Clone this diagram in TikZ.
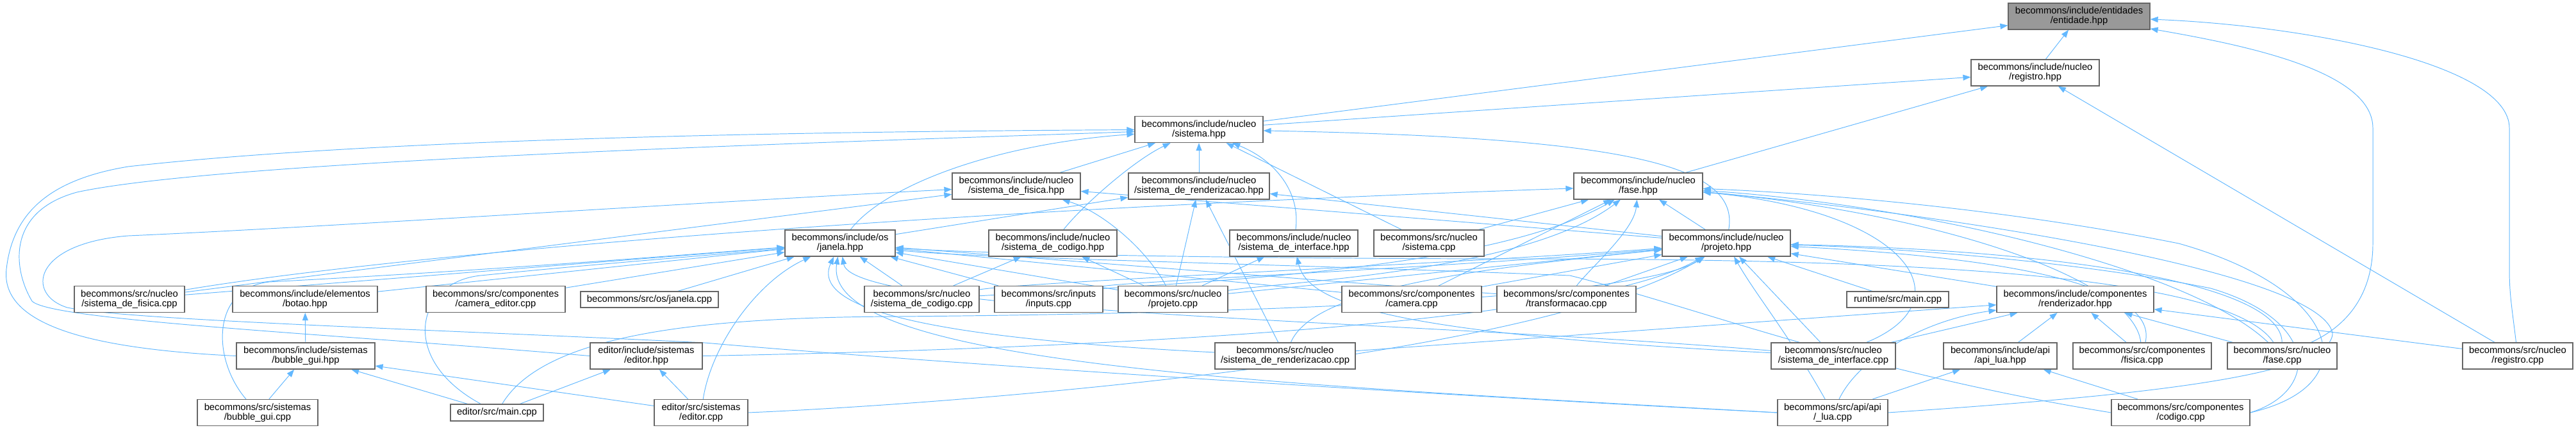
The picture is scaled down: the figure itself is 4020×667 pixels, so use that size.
\documentclass[tikz,border=0pt]{standalone}
\usepackage{fontspec}
\setmainfont{Liberation Sans}
\usetikzlibrary{arrows.meta}
\definecolor{edgec}{HTML}{63B8FF}
\definecolor{boxc}{HTML}{666666}
\definecolor{entfill}{HTML}{999999}
\pgfdeclarelayer{bg}
\pgfsetlayers{bg,main}
\begin{document}
\begin{tikzpicture}[x=0.02cm,y=-0.02cm,
  nbox/.style={draw=boxc,line width=0.7pt,fill=white,minimum height=0.82cm,inner sep=0pt,align=center,font=\fontsize{8.4}{8.55}\selectfont},
  onebox/.style={nbox,minimum height=0.5cm},
  dep/.style={draw=edgec,line width=0.55pt,-{Triangle[length=0.24cm,width=0.18cm]}}]
\useasboundingbox (0,0) rectangle (4020,667);
% nodes
\node[nbox,fill=entfill,minimum width=221*0.02cm] (ent) at (3244.5,25.5) {becommons/include/entidades\\/entidade.hpp};
\node[nbox,minimum width=200*0.02cm] (reg) at (3176,113.5) {becommons/include/nucleo\\/registro.hpp};
\node[nbox,minimum width=200*0.02cm] (sis) at (1871,202) {becommons/include/nucleo\\/sistema.hpp};
\node[nbox,minimum width=200*0.02cm] (fish) at (1586,290.5) {becommons/include/nucleo\\/sistema\_de\_fisica.hpp};
\node[nbox,minimum width=220*0.02cm] (renh) at (1871,290.5) {becommons/include/nucleo\\/sistema\_de\_renderizacao.hpp};
\node[nbox,minimum width=201*0.02cm] (fase) at (2556.5,290.5) {becommons/include/nucleo\\/fase.hpp};
\node[nbox,minimum width=172*0.02cm] (jan) at (1311,379.5) {becommons/include/os\\/janela.hpp};
\node[nbox,minimum width=200*0.02cm] (codh) at (1643,379.5) {becommons/include/nucleo\\/sistema\_de\_codigo.hpp};
\node[nbox,minimum width=200*0.02cm] (inth) at (2019,379.5) {becommons/include/nucleo\\/sistema\_de\_interface.hpp};
\node[nbox,minimum width=172*0.02cm] (siscpp) at (2230,379.5) {becommons/src/nucleo\\/sistema.cpp};
\node[nbox,minimum width=200*0.02cm] (proh) at (2694,379.5) {becommons/include/nucleo\\/projeto.hpp};
\node[nbox,minimum width=172*0.02cm] (fiscpp) at (202,467) {becommons/src/nucleo\\/sistema\_de\_fisica.cpp};
\node[nbox,minimum width=226*0.02cm] (botao) at (476,467) {becommons/include/elementos\\/botao.hpp};
\node[nbox,minimum width=217*0.02cm] (camed) at (773.5,467) {becommons/src/componentes\\/camera\_editor.cpp};
\node[onebox,minimum width=215*0.02cm] (jancpp) at (1013.5,467.5) {becommons/src/os/janela.cpp};
\node[nbox,minimum width=179*0.02cm] (codcpp) at (1438.5,467) {becommons/src/nucleo\\/sistema\_de\_codigo.cpp};
\node[nbox,minimum width=169*0.02cm] (inputs) at (1636.5,467) {becommons/src/inputs\\/inputs.cpp};
\node[nbox,minimum width=171*0.02cm] (procpp) at (1830.5,467) {becommons/src/nucleo\\/projeto.cpp};
\node[nbox,minimum width=218*0.02cm] (camcpp) at (2203,467) {becommons/src/componentes\\/camera.cpp};
\node[nbox,minimum width=217*0.02cm] (transcpp) at (2444.5,467) {becommons/src/componentes\\/transformacao.cpp};
\node[onebox,minimum width=159*0.02cm] (runmain) at (2961.5,467.5) {runtime/src/main.cpp};
\node[nbox,minimum width=245*0.02cm] (rendh) at (3238.5,467) {becommons/include/componentes\\/renderizador.hpp};
\node[nbox,minimum width=216*0.02cm] (bubh) at (477,555.5) {becommons/include/sistemas\\/bubble\_gui.hpp};
\node[nbox,minimum width=175*0.02cm] (edh) at (1008.5,555.5) {editor/include/sistemas\\/editor.hpp};
\node[nbox,minimum width=219*0.02cm] (rencpp) at (2005.5,555.5) {becommons/src/nucleo\\/sistema\_de\_renderizacao.cpp};
\node[nbox,minimum width=194*0.02cm] (intcpp) at (2861,555.5) {becommons/src/nucleo\\/sistema\_de\_interface.cpp};
\node[nbox,minimum width=177*0.02cm] (apih) at (3121.5,555.5) {becommons/include/api\\/api\_lua.hpp};
\node[nbox,minimum width=216*0.02cm] (fiscomp) at (3343,555.5) {becommons/src/componentes\\/fisica.cpp};
\node[nbox,minimum width=171*0.02cm] (fasecpp) at (3561.5,555.5) {becommons/src/nucleo\\/fase.cpp};
\node[nbox,minimum width=172*0.02cm] (regcpp) at (3929,555.5) {becommons/src/nucleo\\/registro.cpp};
\node[nbox,minimum width=188*0.02cm] (bubcpp) at (402,644) {becommons/src/sistemas\\/bubble\_gui.cpp};
\node[onebox,minimum width=145*0.02cm,minimum height=0.52cm] (edmain) at (775.5,644) {editor/src/main.cpp};
\node[nbox,minimum width=146*0.02cm] (edcpp) at (1094,644) {editor/src/sistemas\\/editor.cpp};
\node[nbox,minimum width=172*0.02cm] (apicpp) at (2860,644) {becommons/src/api/api\\/\_lua.cpp};
\node[nbox,minimum width=216*0.02cm] (codigocpp) at (3403,644) {becommons/src/componentes\\/codigo.cpp};
% edges
\begin{pgfonlayer}{bg}
% to entidade
\draw[dep] (reg) -- (ent);
\draw[dep] (sis) -- (ent);
\draw[dep] (fasecpp) .. controls (3680,500) and (3703,440) .. (3703,380) -- (3703,200) .. controls (3703,110) and (3500,70) .. (ent);
\draw[dep] (regcpp) .. controls (3920,480) and (3916,460) .. (3916,420) -- (3916,200) .. controls (3916,100) and (3600,40) .. (ent);
% to registro
\draw[dep] (sis) -- (reg);
\draw[dep] (fase) -- (reg);
\draw[dep] (regcpp) -- (reg);
% to sistema
\draw[dep] (fish) -- (sis);
\draw[dep] (renh) -- (sis);
\draw[dep] (siscpp) -- (sis);
\draw[dep] (codh) .. controls (1690,320) and (1770,250) .. (sis);
\draw[dep] (inth) .. controls (2030,300) and (1990,250) .. (sis);
\draw[dep] (proh) .. controls (2715,260) and (2550,215) .. (sis);
\draw[dep] (jan) .. controls (1380,290) and (1550,225) .. (sis);
\draw[dep] (bubh.west) .. controls (150,545) and (0,510) .. (10,420) .. controls (20,330) and (80,280) .. (200,260) .. controls (600,215) and (1300,205) .. (sis);
\draw[dep] (edh.west) .. controls (500,520) and (80,500) .. (50,470) .. controls (20,420) and (10,330) .. (120,300) .. controls (350,250) and (1300,222) .. (sis);
% to sistema_de_fisica.hpp
\draw[dep] (fiscpp) -- (fish);
\draw[dep] (apicpp.west) .. controls (2300,620) and (1500,570) .. (1100,535) .. controls (700,515) and (200,500) .. (105,480) .. controls (40,460) and (50,380) .. (200,368) .. controls (500,355) and (1100,315) .. (fish);
\draw[dep] (procpp) .. controls (1790,390) and (1720,330) .. (fish);
\draw[dep] (proh) -- (fish);
% to sistema_de_renderizacao.hpp
\draw[dep] (jan) -- (renh);
\draw[dep] (procpp) -- (renh);
\draw[dep] (rencpp) -- (renh);
\draw[dep] (proh) -- (renh);
% to codigo / interface hpp
\draw[dep] (codcpp) -- (codh);
\draw[dep] (procpp) -- (codh);
\draw[dep] (procpp) -- (inth);
\draw[dep] (intcpp) .. controls (2150,520) and (2040,470) .. (inth);
% to fase.hpp
\draw[dep] (fiscpp) .. controls (600,400) and (1400,330) .. (fase);
\draw[dep] (siscpp) -- (fase);
\draw[dep] (codcpp) .. controls (1900,440) and (2330,420) .. (fase);
\draw[dep] (procpp) .. controls (2000,440) and (2380,425) .. (fase);
\draw[dep] (camcpp) -- (fase);
\draw[dep] (transcpp) .. controls (2480,420) and (2550,360) .. (fase);
\draw[dep] (proh) -- (fase);
\draw[dep] (fasecpp) .. controls (3420,420) and (3000,320) .. (fase);
\draw[dep] (fiscomp) .. controls (3330,430) and (3000,330) .. (fase);
\draw[dep] (intcpp) .. controls (3070,470) and (2980,330) .. (fase);
\draw[dep] (codigocpp.east) .. controls (3700,600) and (3650,450) .. (3400,380) .. controls (3100,320) and (2800,300) .. (fase);
\draw[dep] (apicpp.east) .. controls (3300,620) and (3640,590) .. (3640,520) .. controls (3620,420) and (3000,330) .. (fase);
% to projeto.hpp
\draw[dep] (edh.east) .. controls (1500,548) and (2450,520) .. (proh);
\draw[dep] (edmain) .. controls (850,520) and (1100,495) .. (1400,494) .. controls (1900,490) and (2550,470) .. (proh);
\draw[dep] (edcpp.east) .. controls (1500,630) and (2400,560) .. (proh);
\draw[dep] (codcpp) .. controls (1600,440) and (2300,410) .. (proh);
\draw[dep] (inputs) .. controls (1750,440) and (2300,415) .. (proh);
\draw[dep] (procpp) -- (proh);
\draw[dep] (camcpp) -- (proh);
\draw[dep] (transcpp) -- (proh);
\draw[dep] (runmain) -- (proh);
\draw[dep] (rendh) -- (proh);
\draw[dep] (intcpp) -- (proh);
\draw[dep] (rencpp) .. controls (2050,450) and (2300,420) .. (proh);
\draw[dep] (apicpp) .. controls (2790,520) and (2740,460) .. (proh);
\draw[dep] (fiscomp) .. controls (3370,440) and (3100,400) .. (proh);
\draw[dep] (fasecpp) .. controls (3560,440) and (3200,390) .. (proh);
\draw[dep] (codigocpp.east) .. controls (3620,610) and (3620,500) .. (3450,450) .. controls (3200,400) and (2900,385) .. (proh);
% to janela.hpp
\draw[dep] (fiscpp) -- (jan);
\draw[dep] (botao) -- (jan);
\draw[dep] (camed) -- (jan);
\draw[dep] (jancpp) -- (jan);
\draw[dep] (bubcpp) .. controls (330,560) and (330,450) .. (420,440) .. controls (800,420) and (1100,395) .. (jan);
\draw[dep] (edmain) .. controls (620,560) and (650,440) .. (750,430) .. controls (950,410) and (1150,395) .. (jan);
\draw[dep] (edcpp) .. controls (1110,540) and (1180,440) .. (jan);
\draw[dep] (codcpp) -- (jan);
\draw[dep] (inputs) -- (jan);
\draw[dep] (procpp) -- (jan);
\draw[dep] (camcpp) -- (jan);
\draw[dep] (transcpp) -- (jan);
\draw[dep] (rencpp) .. controls (1500,530) and (1260,490) .. (jan);
\draw[dep] (apicpp.west) .. controls (2000,600) and (1280,570) .. (jan);
\draw[dep] (intcpp) .. controls (2200,500) and (1330,490) .. (jan);
\draw[dep] (fasecpp) .. controls (3480,430) and (3000,405) .. (2400,404) .. controls (1900,404) and (1500,395) .. (jan);
\draw[dep] (codigocpp.west) .. controls (2900,580) and (2650,480) .. (2450,430) .. controls (2000,412) and (1500,402) .. (jan);
% bubble gui / editor
\draw[dep] (bubh) -- (botao);
\draw[dep] (bubcpp) -- (bubh);
\draw[dep] (edmain) -- (bubh);
\draw[dep] (edcpp) -- (bubh);
\draw[dep] (edmain) -- (edh);
\draw[dep] (edcpp) -- (edh);
% to renderizador.hpp
\draw[dep] (rencpp) -- (rendh);
\draw[dep] (intcpp) -- (rendh);
\draw[dep] (apih) -- (rendh);
\draw[dep] (fiscomp) -- (rendh);
\draw[dep] (fasecpp) -- (rendh);
\draw[dep] (regcpp) -- (rendh);
\draw[dep] (apicpp) .. controls (2900,560) and (3000,500) .. (rendh);
% to api_lua.hpp
\draw[dep] (apicpp) -- (apih);
\draw[dep] (codigocpp) -- (apih);
\end{pgfonlayer}
\end{tikzpicture}
\end{document}
